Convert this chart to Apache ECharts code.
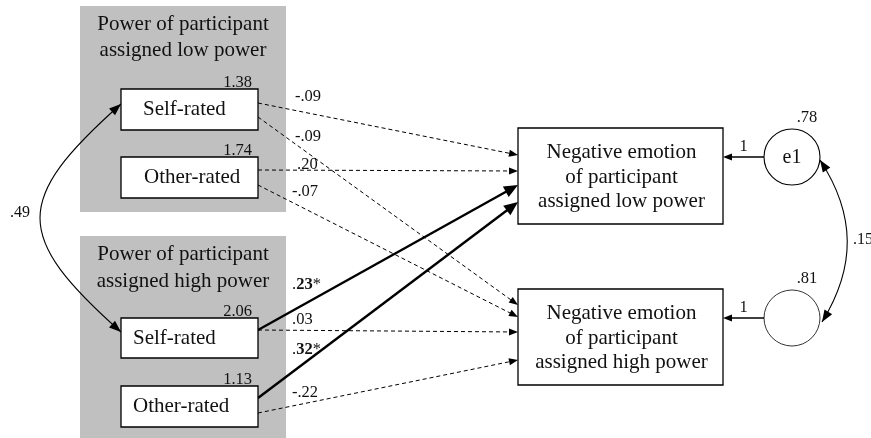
<!DOCTYPE html>
<html>
<head>
<meta charset="utf-8">
<script src="https://cdn.jsdelivr.net/npm/echarts@6/dist/echarts.min.js"></script>
<style>
html, body { margin: 0; padding: 0; background: #fff; }
#chart { width: 871px; height: 438px; }
</style>
</head>
<body>
<div id="chart"></div>
<script>
// model values
var groupTitles = ['Power of participant\nassigned low power', 'Power of participant\nassigned high power'];
var predictorNames = ['Self-rated', 'Other-rated', 'Self-rated', 'Other-rated'];
var predictorVariances = ['1.38', '1.74', '2.06', '1.13'];
var outcomeNames = ['Negative emotion\nof participant\nassigned low power', 'Negative emotion\nof participant\nassigned high power'];
var errorNames = ['e1', ''];
var errorVariances = ['.78', '.81'];
var errorWeights = ['1', '1'];
var pathFrom = [0, 0, 1, 1, 2, 2, 3, 3];
var pathTo = [0, 1, 0, 1, 0, 1, 0, 1];
var pathCoefs = ['-.09', '-.09', '.20', '-.07', '.23*', '.03', '.32*', '-.22'];
var pathSignificant = [false, false, false, false, true, false, true, false];
var covarianceLabels = ['.49', '.15'];

// layout of the diagram (axis units = pixels of the figure)
var panelRects = [[80, 6, 286, 212], [80, 236, 286, 438]];
var panelTitleY = [37.5, 268];
var predictorRects = [[121, 89, 258, 130], [121, 157, 258, 198], [121, 318, 258, 358], [121, 386, 258, 427]];
var predictorTextX = [143, 144, 133, 133];
var outcomeRects = [[518, 128, 723, 224], [518, 289, 723, 385]];
var errorCenters = [[792, 157], [792, 318]];
var errorRadius = 28;
var pathStart = [[258, 103], [258, 117], [258, 170], [258, 185], [258, 330], [258, 330], [258, 398], [258, 413]];
var pathEnd = [[518, 155], [518, 305], [518, 171], [518, 317], [518, 185], [518, 332], [518, 202], [518, 360]];
var pathLabelPos = [[295, 97], [295, 137], [297, 165], [292, 192], [292, 285], [292, 320], [292, 350], [292, 393]];
var covCurves = [
  [[121, 104], [13, 200], [13, 236], [121, 332]],
  [[820, 160], [856, 215], [856, 267], [822, 322]]
];
var covLabelPos = [[10, 213], [853, 240]];

var SERIF = '"Liberation Serif", "Times New Roman", serif';
var INK = '#111';

function arrowHead(tip, from, len, half) {
  var dx = tip[0] - from[0], dy = tip[1] - from[1];
  var d = Math.sqrt(dx * dx + dy * dy);
  var ux = dx / d, uy = dy / d;
  var bx = tip[0] - ux * len, by = tip[1] - uy * len;
  return [[tip[0], tip[1]], [bx - uy * half, by + ux * half], [bx + uy * half, by - ux * half]];
}
function backOff(tip, from, len) {
  var dx = tip[0] - from[0], dy = tip[1] - from[1];
  var d = Math.sqrt(dx * dx + dy * dy);
  return [tip[0] - dx / d * len, tip[1] - dy / d * len];
}
function indexData(n) {
  var a = [];
  for (var i = 0; i < n; i++) a.push([i, i]);
  return a;
}
function rectShape(api, r) {
  var p0 = api.coord([r[0], r[1]]), p1 = api.coord([r[2], r[3]]);
  return { x: p0[0], y: p0[1], width: p1[0] - p0[0], height: p1[1] - p0[1] };
}

// gray panels with titles
function renderPanel(params, api) {
  var i = params.dataIndex;
  var s = rectShape(api, panelRects[i]);
  var ty = api.coord([0, panelTitleY[i]])[1];
  return { type: 'group', children: [
    { type: 'rect', shape: s, style: { fill: '#c0c0c0' } },
    { type: 'text', style: { text: groupTitles[i], x: s.x + s.width / 2, y: ty, align: 'center', verticalAlign: 'middle',
      fontSize: 21, fontFamily: SERIF, lineHeight: 26.5, fill: INK } }
  ]};
}

// regression paths
function renderPath(params, api) {
  var i = params.dataIndex;
  var a = api.coord(pathStart[i]), b = api.coord(pathEnd[i]);
  var bold = pathSignificant[i];
  var len = bold ? 14 : 9, half = bold ? 6 : 3.5;
  var end = backOff(b, a, len * 0.8);
  var lp = api.coord(pathLabelPos[i]);
  var txt = pathCoefs[i];
  var labelStyle = { x: lp[0], y: lp[1], align: 'left', verticalAlign: 'middle', fontSize: 16.5, fontFamily: SERIF, fill: INK };
  if (bold) {
    labelStyle.text = '.{b|' + txt.slice(1, 3) + '}*';
    labelStyle.rich = { b: { fontWeight: 'bold', fontSize: 16.5, fontFamily: SERIF, fill: INK } };
  } else {
    labelStyle.text = txt;
  }
  return { type: 'group', children: [
    { type: 'line', shape: { x1: a[0], y1: a[1], x2: end[0], y2: end[1] },
      style: { stroke: '#000', lineWidth: bold ? 2.4 : 1, lineDash: bold ? null : [4, 3] } },
    { type: 'polygon', shape: { points: arrowHead(b, a, len, half) }, style: { fill: '#000' } },
    { type: 'text', style: labelStyle }
  ]};
}

// observed variable boxes on the left
function renderPredictor(params, api) {
  var i = params.dataIndex;
  var r = predictorRects[i];
  var s = rectShape(api, r);
  var tx = api.coord([predictorTextX[i], 0])[0];
  var vp = api.coord([r[2] - 6, r[1] - 6]);
  return { type: 'group', children: [
    { type: 'rect', shape: s, style: { fill: '#fff', stroke: '#000', lineWidth: 1.3 } },
    { type: 'text', style: { text: predictorNames[i], x: tx, y: s.y + s.height / 2, align: 'left', verticalAlign: 'middle',
      fontSize: 21, fontFamily: SERIF, fill: INK } },
    { type: 'text', style: { text: predictorVariances[i], x: vp[0], y: vp[1], align: 'right', verticalAlign: 'middle',
      fontSize: 16.5, fontFamily: SERIF, fill: INK } }
  ]};
}

// outcome boxes on the right
function renderOutcome(params, api) {
  var i = params.dataIndex;
  var s = rectShape(api, outcomeRects[i]);
  return { type: 'group', children: [
    { type: 'rect', shape: s, style: { fill: '#fff', stroke: '#000', lineWidth: 1.3 } },
    { type: 'text', style: { text: outcomeNames[i], x: s.x + s.width / 2 + 1, y: s.y + s.height / 2 + 1, align: 'center', verticalAlign: 'middle',
      fontSize: 21, fontFamily: SERIF, lineHeight: 24.5, fill: INK } }
  ]};
}

// error terms
function renderError(params, api) {
  var i = params.dataIndex;
  var c = api.coord(errorCenters[i]);
  var edge = api.coord([errorCenters[i][0] - errorRadius, errorCenters[i][1]]);
  var rad = c[0] - edge[0];
  var box = outcomeRects[i];
  var tip = api.coord([box[2], errorCenters[i][1]]);
  var lineEnd = backOff(tip, edge, 7);
  return { type: 'group', children: [
    { type: 'line', shape: { x1: edge[0], y1: edge[1], x2: lineEnd[0], y2: lineEnd[1] }, style: { stroke: '#000', lineWidth: 1.4 } },
    { type: 'polygon', shape: { points: arrowHead(tip, edge, 9, 3.5) }, style: { fill: '#000' } },
    { type: 'text', style: { text: errorWeights[i], x: (tip[0] + edge[0]) / 2, y: c[1] - 10, align: 'center', verticalAlign: 'middle',
      fontSize: 16.5, fontFamily: SERIF, fill: INK } },
    { type: 'circle', shape: { cx: c[0], cy: c[1], r: rad }, style: { fill: '#fff', stroke: '#000', lineWidth: i === 0 ? 1.1 : 0.8 } },
    { type: 'text', style: { text: errorNames[i], x: c[0], y: c[1] + 1, align: 'center', verticalAlign: 'middle',
      fontSize: 20, fontFamily: SERIF, fill: INK } },
    { type: 'text', style: { text: errorVariances[i], x: c[0] + 15, y: c[1] - rad - 11, align: 'center', verticalAlign: 'middle',
      fontSize: 16.5, fontFamily: SERIF, fill: INK } }
  ]};
}

// covariances (double headed curves)
function renderCov(params, api) {
  var i = params.dataIndex;
  var p = covCurves[i].map(function (q) { return api.coord(q); });
  var lp = api.coord(covLabelPos[i]);
  return { type: 'group', children: [
    { type: 'bezierCurve', shape: { x1: p[0][0], y1: p[0][1], cpx1: p[1][0], cpy1: p[1][1], cpx2: p[2][0], cpy2: p[2][1], x2: p[3][0], y2: p[3][1] },
      style: { stroke: '#000', lineWidth: 1.1, fill: null } },
    { type: 'polygon', shape: { points: arrowHead(p[0], p[1], 12, 4.5) }, style: { fill: '#000' } },
    { type: 'polygon', shape: { points: arrowHead(p[3], p[2], 12, 4.5) }, style: { fill: '#000' } },
    { type: 'text', style: { text: covarianceLabels[i], x: lp[0], y: lp[1], align: 'left', verticalAlign: 'middle',
      fontSize: 16, fontFamily: SERIF, fill: INK } }
  ]};
}

var myChart = echarts.init(document.getElementById('chart'), null, { renderer: 'canvas' });
var option = {
  backgroundColor: '#fff',
  animation: false,
  grid: { left: 0, right: 0, top: 0, bottom: 0 },
  xAxis: { type: 'value', min: 0, max: 871, show: false },
  yAxis: { type: 'value', min: 0, max: 438, inverse: true, show: false },
  series: [
    { type: 'custom', name: 'panels', clip: false, z: 1, data: indexData(panelRects.length), renderItem: renderPanel },
    { type: 'custom', name: 'paths', clip: false, z: 2, data: indexData(pathCoefs.length), renderItem: renderPath },
    { type: 'custom', name: 'covariances', clip: false, z: 2, data: indexData(covarianceLabels.length), renderItem: renderCov },
    { type: 'custom', name: 'predictors', clip: false, z: 3, data: indexData(predictorNames.length), renderItem: renderPredictor },
    { type: 'custom', name: 'outcomes', clip: false, z: 3, data: indexData(outcomeNames.length), renderItem: renderOutcome },
    { type: 'custom', name: 'errors', clip: false, z: 3, data: indexData(errorNames.length), renderItem: renderError }
  ]
};
myChart.setOption(option);
window.addEventListener('resize', function () {
  myChart.resize();
});
</script>
</body>
</html>
